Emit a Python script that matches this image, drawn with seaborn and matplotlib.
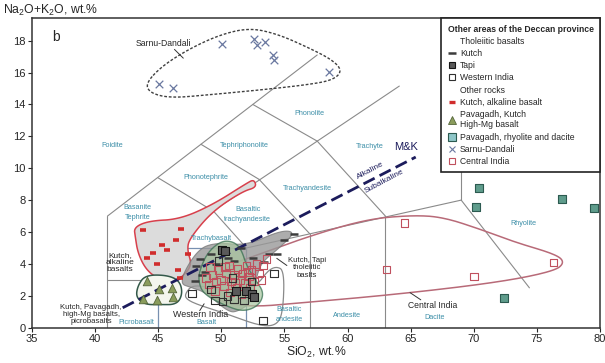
import numpy as np
import matplotlib
matplotlib.use('Agg')
import matplotlib.pyplot as plt
import seaborn as sns
from matplotlib.lines import Line2D

# %%
# Data (SiO2, Na2O+K2O)
sarnu_x = [45.1, 46.2, 50.1, 52.6, 52.8, 53.5, 54.1, 54.2, 58.5]
sarnu_y = [15.3, 15.05, 17.8, 18.1, 17.7, 17.9, 17.1, 16.8, 16.05]

kutch_alk_x = [43.8, 46.8, 46.4, 45.3, 45.7, 44.6, 44.1, 47.4, 44.9, 46.6, 46.7]
kutch_alk_y = [6.1, 6.2, 5.5, 5.2, 4.9, 4.7, 4.4, 4.6, 4.0, 3.6, 3.1]

kutch_thol_x = [48.0, 48.3, 48.7, 49.2, 49.6, 50.5, 51.0, 51.6, 53.4, 53.8, 55.0, 55.8, 47.9, 48.5, 52.5, 54.4]
kutch_thol_y = [3.9, 4.3, 3.5, 4.6, 4.0, 4.4, 4.2, 5.0, 4.1, 4.6, 5.5, 5.9, 2.9, 3.3, 4.4, 4.6]

tapi_x = [50.1, 50.3, 52.0, 52.4, 52.6, 51.2]
tapi_y = [4.9, 4.8, 2.3, 2.1, 1.9, 2.3]

western_x = [47.7, 49.5, 50.1, 53.3, 54.2, 49.2, 50.5, 51.0, 51.8, 52.4, 49.8, 50.9]
western_y = [2.15, 1.7, 1.65, 0.45, 3.4, 2.4, 2.0, 1.8, 1.7, 2.9, 4.2, 3.1]

central_x = [48.8, 49.0, 49.3, 49.6, 49.8, 50.0, 50.2, 50.4, 50.6, 50.8, 51.0, 51.2, 51.3, 51.5,
             51.7, 51.9, 52.0, 52.2, 52.4, 52.6, 52.8, 53.0, 53.3, 53.6, 49.5, 50.7, 51.6, 52.3,
             49.1, 50.3, 51.1, 52.1, 53.2, 64.5, 63.1, 70.0, 76.3]
central_y = [3.1, 2.7, 3.3, 2.9, 3.6, 3.0, 2.6, 3.4, 3.9, 2.9, 3.3, 2.5, 3.7, 3.0,
             3.4, 2.8, 3.9, 3.2, 3.6, 2.9, 4.0, 3.4, 3.9, 4.3, 2.3, 2.2, 2.1, 2.5,
             3.8, 3.8, 2.8, 3.5, 3.0, 6.55, 3.66, 3.2, 4.1]

pav_mg_x = [44.1, 45.1, 46.1, 43.85, 44.9, 46.15]
pav_mg_y = [2.9, 2.45, 2.5, 1.8, 1.72, 1.9]

pav_rhy_x = [70.4, 77.0, 70.2, 79.5, 72.4]
pav_rhy_y = [8.74, 8.1, 7.55, 7.52, 1.84]

# envelopes (control points, smoothed below)
env_sarnu = [(44.0, 15.3), (45.3, 16.4), (47.5, 17.5), (50.0, 18.4), (52.3, 18.8), (54.5, 18.4),
             (56.8, 17.6), (58.8, 16.8), (59.6, 16.1), (58.8, 15.5), (56.5, 15.2), (53.0, 14.9),
             (49.0, 14.6), (46.0, 14.4), (44.4, 14.7)]
env_kutch_alk = [(43.1, 6.3), (44.3, 6.7), (46.7, 6.8), (49.3, 7.7), (52.0, 9.05), (52.6, 9.3),
                 (52.8, 8.8), (51.7, 8.55), (49.3, 7.3), (47.5, 5.6), (47.3, 4.9), (47.7, 3.9),
                 (46.8, 3.1), (46.2, 2.85), (44.9, 3.1), (44.0, 3.7), (43.4, 4.7), (43.2, 5.7)]
env_kutch_thol = [(46.6, 2.8), (48.1, 4.9), (49.6, 5.35), (52.0, 5.15), (54.7, 6.1), (55.9, 6.0),
                  (54.6, 5.0), (53.2, 4.1), (52.8, 3.2), (52.4, 1.6), (51.4, 1.05), (50.6, 0.95),
                  (48.8, 2.2), (47.7, 2.5)]
env_tapi = [(50.0, 5.45), (48.9, 4.7), (48.3, 3.6), (48.2, 2.9), (48.6, 2.1), (50.4, 1.35),
            (51.8, 1.0), (53.0, 1.4), (53.4, 2.2), (52.7, 3.0), (52.0, 3.9), (51.6, 4.9), (51.0, 5.4)]
env_picro = [(43.4, 2.65), (44.0, 3.3), (45.7, 3.3), (46.7, 2.95), (46.95, 2.15), (46.5, 1.45),
             (45.1, 1.45), (44.0, 1.45), (43.25, 1.9)]
env_western = [(47.1, 2.1), (47.8, 2.75), (50.0, 2.3), (52.8, 2.6), (53.6, 3.5), (54.3, 3.85),
               (55.0, 3.6), (54.9, 1.0), (54.4, 0.15), (53.1, 0.1), (50.5, 0.85), (48.3, 1.4),
               (47.3, 1.75)]
env_central = [(50.5, 3.9), (53.0, 4.6), (57.0, 5.75), (61.5, 6.8), (65.0, 7.05), (67.5, 6.95),
               (70.6, 6.15), (73.3, 5.35), (76.5, 4.6), (77.2, 4.1), (76.4, 3.55), (72.0, 2.85),
               (64.0, 2.1), (56.2, 1.55), (52.5, 1.3), (50.0, 1.6), (48.5, 2.4)]

# TAS field boundaries (Le Bas et al., 1986)
tas_lines = [[(41, 0), (41, 7)], [(41, 7), (57.6, 17.1)], [(41, 3), (45, 3)],
             [(45, 5), (64.1, 15.15)], [(52, 5), (69, 8)], [(49.4, 7.3), (52, 5)],
             [(45, 9.4), (49.4, 7.3)], [(48.4, 11.5), (53, 9.3)], [(53, 9.3), (57, 5.9)],
             [(57, 5.9), (57, 0)], [(52.5, 14), (57.6, 11.7)], [(57.6, 11.7), (63, 7)],
             [(63, 7), (63, 0)], [(69, 12), (69, 8)], [(69, 8), (74.4, 2.5)]]
basalt_box = [(45, 0), (45, 5), (52, 5), (52, 0)]

mk_x = [42.2, 65.4]
mk_y = [1.25, 10.7]


def smooth(pts, n=4):
    p = np.asarray(pts, float)
    for _ in range(n):
        q = np.roll(p, -1, axis=0)
        p = np.column_stack([0.75 * p + 0.25 * q, 0.25 * p + 0.75 * q]).reshape(-1, 2)
    return np.vstack([p, p[:1]])


# %%
sns.set_style('ticks')
plt.rcParams['font.family'] = ['Liberation Sans', 'DejaVu Sans']
plt.rcParams['mathtext.fontset'] = 'custom'
plt.rcParams['mathtext.rm'] = 'Liberation Sans'
plt.rcParams['mathtext.it'] = 'Liberation Sans:italic'

fig, ax = plt.subplots(figsize=(6.05, 3.63), dpi=100)
fig.subplots_adjust(left=0.0524, right=0.992, bottom=0.0972, top=0.9496)

for seg in tas_lines:
    xs, ys = zip(*seg)
    ax.plot(xs, ys, color='#8a8a8a', lw=0.8, zorder=1)
bx, by = zip(*basalt_box)
ax.plot(bx, by, color='#7890b0', lw=0.9, zorder=1)

# envelopes
c = smooth(env_central)
ax.plot(c[:, 0], c[:, 1], color='#b86a78', lw=1.1, zorder=2)
c = smooth(env_western)
ax.plot(c[:, 0], c[:, 1], color='#8a8a8a', lw=0.9, zorder=2)
c = smooth(env_kutch_alk)
ax.fill(c[:, 0], c[:, 1], facecolor='#dcdcdc', edgecolor='#d8404c', lw=1.1, zorder=2)
c = smooth(env_kutch_thol)
ax.fill(c[:, 0], c[:, 1], facecolor='#999999', alpha=0.8, edgecolor='#7a7a7a', lw=0.8, zorder=3)
c = smooth(env_tapi)
ax.fill(c[:, 0], c[:, 1], facecolor='#a9c6a0', alpha=0.7, edgecolor='#2f6a4a', lw=1.0, zorder=4)
c = smooth(env_picro)
ax.fill(c[:, 0], c[:, 1], facecolor='#f4f6ee', edgecolor='#33594a', lw=1.1, zorder=3)
c = smooth(env_sarnu)
ax.plot(c[:, 0], c[:, 1], color='#404040', lw=1.0, ls=(0, (2, 1.3)), zorder=2)

# M&K alkaline / subalkaline divide
ax.plot(mk_x, mk_y, color='#1c1c5c', lw=2, dashes=(4.5, 2), zorder=6)

# points
sns.scatterplot(x=sarnu_x, y=sarnu_y, marker='x', color='#6a78a0', s=30, linewidth=0.9, ax=ax, zorder=7)
sns.scatterplot(x=kutch_alk_x, y=kutch_alk_y, marker='_', color='#d02c2c', s=22, linewidth=2.6, ax=ax, zorder=7)
sns.scatterplot(x=kutch_thol_x, y=kutch_thol_y, marker='_', color='#3c3c3c', s=28, linewidth=1.8, ax=ax, zorder=7)
sns.scatterplot(x=central_x, y=central_y, marker='s', facecolor='none', edgecolor='#c0505e', s=30, linewidth=0.8, ax=ax, zorder=7)
sns.scatterplot(x=western_x, y=western_y, marker='s', facecolor='none', edgecolor='#303030', s=30, linewidth=0.8, ax=ax, zorder=7)
sns.scatterplot(x=tapi_x, y=tapi_y, marker='s', color='#5a5a5a', edgecolor='#151515', s=30, linewidth=0.8, ax=ax, zorder=8)
sns.scatterplot(x=pav_mg_x, y=pav_mg_y, marker='^', color='#8a9c5c', edgecolor='#55663a', s=38, linewidth=0.6, ax=ax, zorder=8)
sns.scatterplot(x=pav_rhy_x, y=pav_rhy_y, marker='s', color='#5f9c8c', edgecolor='#2c5a50', s=34, linewidth=0.8, ax=ax, zorder=8)

# field names
fc = '#3d8fa8'
fields = [('Foidite', 41.4, 11.4), ('Tephriphonolite', 51.8, 11.4), ('Phonolite', 57.0, 13.4),
          ('Phonotephrite', 48.8, 9.4), ('Trachyte', 61.8, 11.35), ('Trachyandesite', 56.8, 8.75),
          ('Basaltic\ntrachyandesite', 52.1, 7.07), ('Basanite\nTephrite', 43.4, 7.2),
          ('Trachybasalt', 49.2, 5.6), ('Picrobasalt', 43.3, 0.3), ('Basalt', 48.8, 0.3),
          ('Basaltic\nandesite', 55.4, 0.8), ('Andesite', 60.0, 0.75), ('Dacite', 66.9, 0.65),
          ('Rhyolite', 73.9, 6.55)]
for name, fx, fy in fields:
    ax.text(fx, fy, name, color=fc, fontsize=5.2, ha='center', va='center',
            linespacing=1.6, zorder=5)

# annotations
ax.text(36.6, 18.2, 'b', fontsize=10, va='center')
ax.text(45.4, 17.8, 'Sarnu-Dandali', fontsize=6.2, ha='center', va='center')
ax.plot([46.3, 47.0], [17.45, 16.9], color='#333333', lw=0.7)
ax.text(42.0, 4.1, 'Kutch,\nalkaline\nbasalts', fontsize=6, ha='center', va='center', linespacing=1.0)
ax.text(39.7, 0.8, 'Kutch, Pavagadh,\nhigh-Mg basalts,\npicrobasalts', fontsize=5.6,
        ha='center', va='center', linespacing=1.0)
ax.text(48.4, 0.8, 'Western India', fontsize=6.4, ha='center', va='center')
ax.plot([48.3, 48.65], [1.07, 1.5], color='#333333', lw=0.7)
ax.text(56.8, 3.75, 'Kutch, Tapi\ntholeiitic\nbaslts', fontsize=5.6, ha='center', va='center', linespacing=1.05)
ax.plot([54.4, 55.2], [4.35, 3.9], color='#333333', lw=0.7)
ax.text(66.7, 1.42, 'Central India', fontsize=6.2, ha='center', va='center')
ax.plot([64.95, 65.8], [2.2, 1.75], color='#333333', lw=0.7)
ax.text(64.6, 11.3, 'M&K', fontsize=8, color='#1c1c5c', ha='center', va='center')
ax.text(61.8, 9.85, 'Alkaline', fontsize=6, color='#1c1c5c', ha='center', va='center', rotation=28)
ax.text(62.9, 9.2, 'Subalkaline', fontsize=6, color='#1c1c5c', ha='center', va='center', rotation=28)

# axes
ax.set_xlim(35, 80)
ax.set_ylim(0, 19.4)
ax.set_xticks(range(35, 81, 5))
ax.set_yticks(range(0, 19, 2))
ax.tick_params(labelsize=8, length=3, width=0.8, pad=1.5)
for sp in ax.spines.values():
    sp.set_color('#333333')
    sp.set_linewidth(1.1)
fig.text(0.005, 0.972, 'Na$_2$O+K$_2$O, wt.%', fontsize=8.8, ha='left', va='center')
fig.text(0.523, 0.03, 'SiO$_2$, wt.%', fontsize=8.8, ha='center', va='center')

# legend
blank = Line2D([], [], ls='none', marker=None)
handles = [
    blank,
    Line2D([], [], ls='none', marker='_', color='#3c3c3c', ms=6, mew=1.8),
    Line2D([], [], ls='none', marker='s', mfc='#5a5a5a', mec='#151515', ms=5, mew=0.8),
    Line2D([], [], ls='none', marker='s', mfc='white', mec='#303030', ms=5, mew=0.8),
    blank,
    Line2D([], [], ls='none', marker='_', color='#d02c2c', ms=5, mew=2.4),
    Line2D([], [], ls='none', marker='^', mfc='#8a9c5c', mec='#55663a', ms=5.5, mew=0.6),
    Line2D([], [], ls='none', marker='s', mfc='#8ec6c8', mec='#2c5a50', ms=5.5, mew=0.8),
    Line2D([], [], ls='none', marker='x', color='#6a78a0', ms=5, mew=0.8),
    Line2D([], [], ls='none', marker='s', mfc='white', mec='#c0505e', ms=5, mew=0.8),
]
labels = ['Tholeiitic basalts', 'Kutch', 'Tapi', 'Western India', 'Other rocks',
          'Kutch, alkaline basalt', 'Pavagadh, Kutch\nHigh-Mg basalt',
          'Pavagadh, rhyolite and dacite', 'Sarnu-Dandali', 'Central India']
leg = ax.legend(handles, labels, loc='upper right', bbox_to_anchor=(1.0, 1.0), borderaxespad=0,
                fontsize=6.2, title='Other areas of the Deccan province',
                title_fontproperties={'weight': 'bold', 'size': 6.2}, alignment='left',
                frameon=True, fancybox=False, edgecolor='#222222', framealpha=1,
                handlelength=0.9, handletextpad=0.5, borderpad=0.75, labelspacing=0.37)
leg.get_frame().set_linewidth(1.2)
leg.set_zorder(10)

fig.savefig('out.png', dpi=100)
